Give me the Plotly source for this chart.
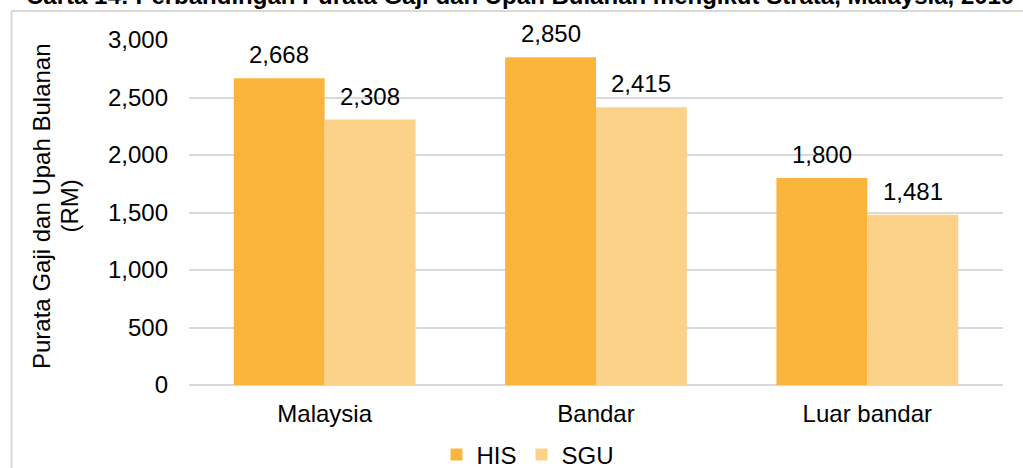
import plotly.graph_objects as go

# Average monthly salaries & wages by strata, Malaysia 2019 (RM)
categories = ["Malaysia", "Bandar", "Luar bandar"]
his_values = [2668, 2850, 1800]
sgu_values = [2308, 2415, 1481]
series_names = ["HIS", "SGU"]
y_ticks = [0, 500, 1000, 1500, 2000, 2500, 3000]

title_text = "Carta 14: Perbandingan Purata Gaji dan Upah Bulanan mengikut Strata, Malaysia, 2019"
y_title_lines = ["Purata Gaji dan Upah Bulanan", "(RM)"]

FONT = "Liberation Sans, Arial, sans-serif"
FS = 24
HIS_COLOR = "#FBB53C"
SGU_COLOR = "#FCD188"
GRID = "#D9D9D9"

W, H = 1023, 468
M_L, M_R, M_T, M_B = 189, 20, 40, 83
PLOT_W = W - M_L - M_R
PLOT_H = H - M_T - M_B
BARGAP = 0.33


def px_x(px):
    return (px - M_L) / PLOT_W


def px_y(py):
    return (H - M_B - py) / PLOT_H


fig = go.Figure()
fig.add_trace(go.Bar(x=categories, y=his_values, name=series_names[0],
                     marker=dict(color=HIS_COLOR, line=dict(width=0))))
fig.add_trace(go.Bar(x=categories, y=sgu_values, name=series_names[1],
                     marker=dict(color=SGU_COLOR, line=dict(width=0))))

# value labels above each bar, offset to the centre of its bar
cat_w = PLOT_W / len(categories)
bar_w = cat_w * (1 - BARGAP) / 2
annotations = []
for vals, sign in ((his_values, -1), (sgu_values, 1)):
    for c, v in zip(categories, vals):
        annotations.append(dict(
            x=c, y=v, xref="x", yref="y", text=f"{v:,}", showarrow=False,
            xanchor="center", yanchor="bottom", xshift=sign * bar_w / 2, yshift=8,
            font=dict(family=FONT, size=FS, color="#000000")))

# chart title, mostly above the visible frame
annotations.append(dict(
    x=px_x(520), y=px_y(0), xref="paper", yref="paper", text=f"<b>{title_text}</b>",
    showarrow=False, xanchor="center", yanchor="bottom", yshift=-11,
    font=dict(family=FONT, size=FS, color="#000000")))

# rotated y-axis title, two lines
for line_text, cx in zip(y_title_lines, (41, 68.5)):
    annotations.append(dict(
        x=px_x(cx), y=px_y(206), xref="paper", yref="paper", text=line_text,
        showarrow=False, textangle=-90, xanchor="center", yanchor="middle",
        font=dict(family=FONT, size=FS, color="#000000")))

# chart-area border (left and top edges)
shapes = [
    dict(type="line", xref="paper", yref="paper", x0=px_x(11.5), x1=px_x(1040),
         y0=px_y(11), y1=px_y(11), line=dict(color=GRID, width=2)),
    dict(type="line", xref="paper", yref="paper", x0=px_x(11.5), x1=px_x(11.5),
         y0=px_y(11), y1=px_y(480), line=dict(color=GRID, width=2)),
]

fig.update_layout(
    width=W, height=H,
    margin=dict(l=M_L, r=M_R, t=M_T, b=M_B, autoexpand=False),
    paper_bgcolor="white", plot_bgcolor="white",
    barmode="group", bargap=BARGAP, bargroupgap=0,
    font=dict(family=FONT, size=FS, color="#000000"),
    showlegend=True,
    legend=dict(orientation="h", x=px_x(528), xanchor="center", y=px_y(455), yanchor="middle",
                font=dict(family=FONT, size=FS), itemwidth=30, bgcolor="rgba(0,0,0,0)"),
    annotations=annotations,
    shapes=shapes,
    xaxis=dict(showgrid=False, showline=False, ticks="", ticklabelstandoff=12,
               tickfont=dict(family=FONT, size=FS)),
    yaxis=dict(range=[0, 3000], tickvals=y_ticks, tickformat=",", showgrid=True,
               gridcolor=GRID, gridwidth=2, zeroline=True, zerolinecolor=GRID, zerolinewidth=2,
               showline=False, ticks="", ticklabelstandoff=20,
               tickfont=dict(family=FONT, size=FS)),
)

fig.write_html("out.html")
